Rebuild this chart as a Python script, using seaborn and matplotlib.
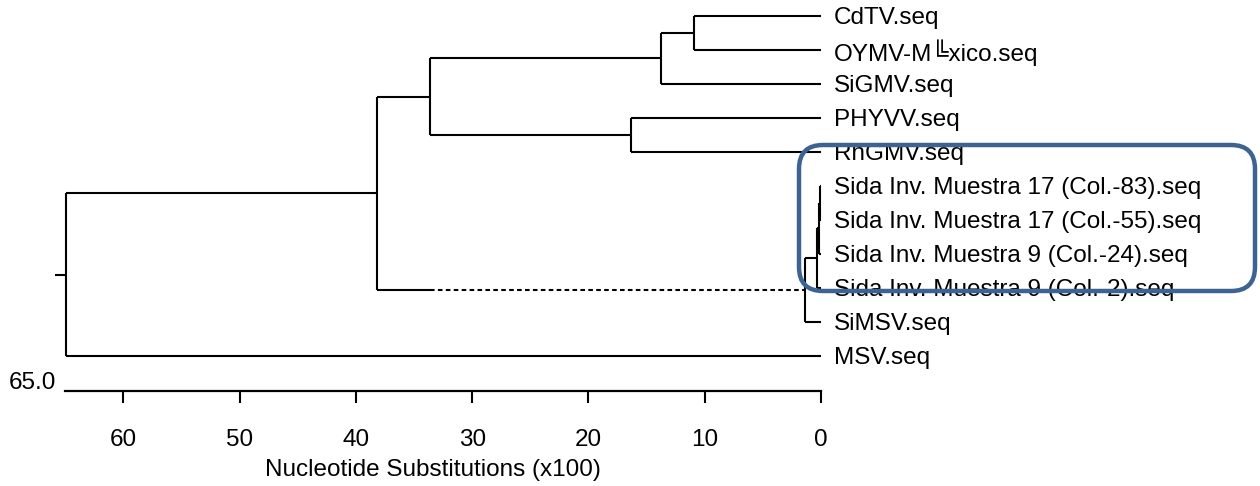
import matplotlib
matplotlib.use("Agg")
import matplotlib.pyplot as plt
import matplotlib.patches as mpatches
from matplotlib.transforms import IdentityTransform
import pandas as pd
import seaborn as sns

# leaf order top to bottom
leaves = [
    "CdTV.seq",
    "OYMV-M\u255axico.seq",
    "SiGMV.seq",
    "PHYVV.seq",
    "RhGMV.seq",
    "Sida Inv. Muestra 17 (Col.-83).seq",
    "Sida Inv. Muestra 17 (Col.-55).seq",
    "Sida Inv. Muestra 9 (Col.-24).seq",
    "Sida Inv. Muestra 9 (Col.-2).seq",
    "SiMSV.seq",
    "MSV.seq",
]
# merges: node ids continue after the leaves (11, 12, ...)
merge_left = [0, 11, 3, 12, 5, 15, 16, 17, 14, 19]
merge_right = [1, 2, 4, 13, 6, 7, 8, 9, 18, 10]
merge_height = [10.9, 13.8, 16.3, 33.6, 0.08, 0.2, 0.35, 1.4, 38.2, 64.9]
# the branch 19 -> 18 is drawn dashed from this distance on
dashed_node = 18
dash_from = 33.6
root_stub = 65.9
scale_ticks = [60, 50, 40, 30, 20, 10, 0]
scale_max = 65.0

sns.set_theme(style="white")
plt.rcParams["font.family"] = ["Liberation Sans", "DejaVu Sans"]
plt.rcParams["text.color"] = "black"
plt.rcParams["axes.labelcolor"] = "black"
plt.rcParams["xtick.color"] = "black"

# node positions
height = {i: 0.0 for i in range(len(leaves))}
ypos = {i: float(i) for i in range(len(leaves))}
for k, (a, b, h) in enumerate(zip(merge_left, merge_right, merge_height)):
    node = len(leaves) + k
    height[node] = h
    ypos[node] = (ypos[a] + ypos[b]) / 2
root = len(leaves) + len(merge_height) - 1

rows = []
seg = 0


def add(x0, y0, x1, y1, style="solid"):
    global seg
    rows.append({"seg": seg, "x": x0, "y": y0, "style": style})
    rows.append({"seg": seg, "x": x1, "y": y1, "style": style})
    seg += 1


for k, (a, b, h) in enumerate(zip(merge_left, merge_right, merge_height)):
    add(h, ypos[a], h, ypos[b])
    for c in (a, b):
        if c == dashed_node:
            add(h, ypos[c], dash_from, ypos[c])
            add(dash_from, ypos[c], height[c], ypos[c], "dashed")
        else:
            add(h, ypos[c], height[c], ypos[c])
add(root_stub, ypos[root], height[root], ypos[root])

df = pd.DataFrame(rows)

fig = plt.figure(figsize=(12.6, 4.86), dpi=100)
ax = fig.add_axes([65.3 / 1260, 1 - 391 / 486, (821 - 65.3) / 1260, 391 / 486])
sns.lineplot(
    data=df, x="x", y="y", units="seg", estimator=None, sort=False,
    style="style", dashes={"solid": "", "dashed": (2.2, 1.6)},
    color="black", linewidth=1.5, legend=False, ax=ax,
)
for line in ax.lines:
    line.set_clip_on(False)
    line.set_solid_capstyle("butt")

ax.set_xlim(scale_max, 0)
ax.set_ylim(11.03, -0.47)
for s in ("left", "top", "right"):
    ax.spines[s].set_visible(False)
ax.spines["bottom"].set_color("black")
ax.spines["bottom"].set_linewidth(1.6)
ax.set_yticks([])
ax.set_ylabel("")
ax.set_xticks(scale_ticks)
ax.set_xticklabels([str(t) for t in scale_ticks])
ax.tick_params(axis="x", direction="out", length=8.5, width=1.5, color="black",
               pad=19, labelsize=17.5, bottom=True)
ax.set_xlabel("Nucleotide Substitutions (x100)", fontsize=17.5)
ax.xaxis.set_label_coords((433 - 65.3) / (821 - 65.3), -(459 - 391) / 391)

for i, name in enumerate(leaves):
    ax.annotate(name, (0, i), xytext=(9.5, -1.8), textcoords="offset points",
                ha="left", va="center", fontsize=17.5, annotation_clip=False)

fig.text(56 / 1260, 1 - 383 / 486, f"{scale_max:.1f}", ha="right", va="center", fontsize=17.5)

box = mpatches.FancyBboxPatch(
    (799, 486 - 291), 456, 146, boxstyle="round,pad=0,rounding_size=24",
    transform=IdentityTransform(), fill=False, edgecolor="#3d6393", linewidth=3.2,
)
fig.add_artist(box)

fig.savefig("out.png", dpi=100)
